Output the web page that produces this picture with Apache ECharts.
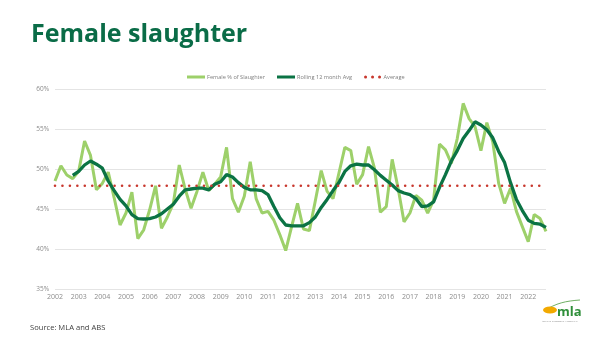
<!DOCTYPE html>
<html>
<head>
<meta charset="utf-8">
<script src="https://cdn.jsdelivr.net/npm/echarts@6/dist/echarts.min.js"></script>
<style>
html,body{margin:0;padding:0;background:#fff;}
#chart{width:602px;height:338px;}
</style>
</head>
<body>
<div id="chart"></div>
<script>
// Years shown on the axis (one category per quarter)
const years = [2002,2003,2004,2005,2006,2007,2008,2009,2010,2011,2012,2013,2014,2015,2016,2017,2018,2019,2020,2021,2022];
const quarters = ['Q1','Q2','Q3','Q4'];

// Female % of slaughter (quarterly)
const femalePct = [
  48.5,50.4,49.25,48.8, 49.7,53.5,51.7,47.4, 48.2,49.6,46.4,43.0, 44.5,47.1,41.3,42.4,
  44.9,47.9,42.6,44.0, 45.7,50.5,47.5,45.1, 47.2,49.6,47.3,48.1, 49.0,52.7,46.3,44.6,
  46.6,50.9,46.3,44.5, 44.7,43.6,41.8,39.8, 42.8,45.7,42.5,42.3, 46.0,49.8,47.2,46.3,
  49.5,52.7,52.3,48.1, 49.3,52.8,50.1,44.6, 45.3,51.2,47.6,43.4, 44.5,46.7,46.1,44.5,
  46.1,53.1,52.4,50.7, 53.8,58.2,56.3,55.3, 52.3,55.8,53.4,48.2, 45.7,47.6,44.7,42.8,
  40.9,44.3,43.8,42.2
];

// Rolling 12 month average (starts at the 4th quarter)
const rollingAvg = [
  null,null,null,49.2, 49.7,50.5,51.0,50.6, 50.1,48.5,47.3,46.2, 45.4,44.3,43.8,43.75,
  43.8,44.0,44.4,45.0, 45.6,46.6,47.4,47.5, 47.6,47.6,47.4,48.1, 48.4,49.3,49.0,48.3,
  47.7,47.4,47.4,47.3, 46.8,45.3,43.9,43.0, 42.9,42.9,42.9,43.3, 44.0,45.2,46.2,47.3,
  48.3,49.7,50.4,50.6, 50.5,50.5,49.9,49.2, 48.6,48.0,47.3,47.0, 46.8,46.3,45.3,45.4,
  45.9,47.7,49.3,51.0, 52.3,53.8,54.8,55.9, 55.5,54.9,53.9,52.2, 50.8,48.3,46.2,44.8,
  43.6,43.2,43.1,42.7
];

// Long-run average
const averageValue = 47.9;

const yTicks = [35,40,45,50,55,60];

const categories = [];
years.forEach(y => quarters.forEach(q => categories.push(y + ' ' + q)));
const averageSeries = categories.map(() => averageValue);

const dotsIcon = 'path://M0,1.5a1.5,1.5 0 1,0 3,0a1.5,1.5 0 1,0 -3,0z M7,1.5a1.5,1.5 0 1,0 3,0a1.5,1.5 0 1,0 -3,0z M14,1.5a1.5,1.5 0 1,0 3,0a1.5,1.5 0 1,0 -3,0z';

const chart = echarts.init(document.getElementById('chart'), null, {renderer:'canvas'});
chart.setOption({
  animation: false,
  backgroundColor: '#ffffff',
  grid: {left: 55, top: 89, width: 491, height: 200, containLabel: false},
  legend: {
    left: 182, top: 69,
    itemWidth: 18, itemHeight: 3, itemGap: 12,
    textStyle: {fontSize: 5.6, color: '#7f7f7f', fontFamily: 'Open Sans', padding: [0,0,0,-3]},
    data: [
      {name: 'Female % of Slaughter', icon: 'rect'},
      {name: 'Rolling 12 month Avg', icon: 'rect'},
      {name: 'Average', icon: dotsIcon}
    ]
  },
  xAxis: {
    type: 'category',
    data: categories,
    boundaryGap: false,
    axisLine: {show: false},
    axisTick: {show: false},
    axisLabel: {
      interval: 3, margin: 4, fontSize: 7, color: '#8c8c8c', fontFamily: 'Open Sans',
      formatter: v => v.slice(0,4)
    },
    splitLine: {show: false}
  },
  yAxis: {
    type: 'value',
    min: yTicks[0], max: yTicks[yTicks.length-1], interval: 5,
    axisLine: {show: false},
    axisTick: {show: false},
    axisLabel: {margin: 6, fontSize: 6.5, color: '#8c8c8c', fontFamily: 'Open Sans', formatter: '{value}%'},
    splitLine: {lineStyle: {color: '#e4e4e4', width: 1}}
  },
  series: [
    {
      name: 'Female % of Slaughter', type: 'line', data: femalePct,
      symbol: 'none', lineStyle: {color: '#9dd06a', width: 3}, itemStyle: {color: '#9dd06a'},
      z: 2
    },
    {
      name: 'Rolling 12 month Avg', type: 'line', data: rollingAvg,
      symbol: 'none', lineStyle: {color: '#0b7344', width: 3.3}, itemStyle: {color: '#0b7344'},
      z: 3
    },
    {
      name: 'Average', type: 'line', data: averageSeries,
      symbol: 'none',
      lineStyle: {color: '#c8372d', width: 2.6, type: [0, 7.45], cap: 'round'},
      itemStyle: {color: '#c8372d'},
      z: 4
    }
  ],
  graphic: [
    {type: 'text', left: 31, top: 22, style: {text: 'Female slaughter', fontSize: 25, fontWeight: 'bold', fontFamily: 'Open Sans', fill: '#0a6c47'}},
    {type: 'text', left: 30, top: 324, style: {text: 'Source: MLA and ABS', fontSize: 7.6, fontFamily: 'Open Sans', fill: '#404040'}},
    {type: 'bezierCurve', shape: {x1: 544, y1: 311, x2: 580, y2: 300, cpx1: 556, cpy1: 303, cpx2: 566, cpy2: 301}, style: {stroke: '#4a9a3c', lineWidth: 0.8, fill: null}},
    {type: 'circle', shape: {cx: 0, cy: 0, r: 7}, x: 550, y: 310, scaleY: 0.5, style: {fill: '#f2a900'}},
    {type: 'text', left: 557, top: 306, style: {text: 'mla', fontSize: 13, fontWeight: 'bold', fontFamily: 'Open Sans', fill: '#2f8f3a'}},
    {type: 'text', left: 542, top: 320, style: {text: 'MEAT & LIVESTOCK AUSTRALIA', fontSize: 2.5, fontFamily: 'Open Sans', fill: '#888888'}}
  ]
});
</script>
</body>
</html>
